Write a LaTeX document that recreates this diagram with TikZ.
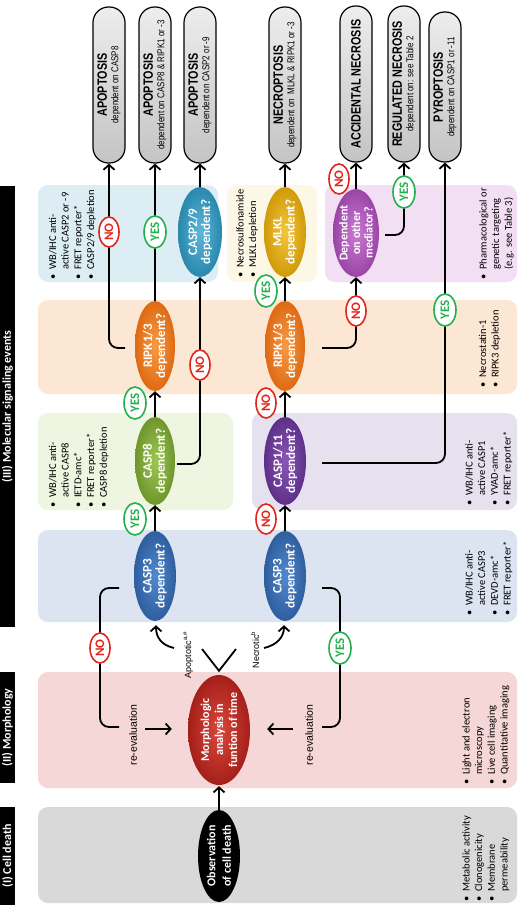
\documentclass[tikz,border=0pt]{standalone}
\usepackage{fontspec}
\setmainfont{Carlito}
\newfontfamily\narfont[FakeStretch=0.8]{Liberation Sans}
\newfontfamily\arifont{Liberation Sans}
\usetikzlibrary{shapes.geometric,arrows.meta,calc}

\definecolor{pgray}{HTML}{D9D9D9}
\definecolor{ppink}{HTML}{F5D7D7}
\definecolor{pblue}{HTML}{DCE4F1}
\definecolor{pgreen}{HTML}{EEF5E0}
\definecolor{ppurple}{HTML}{E6E1EE}
\definecolor{porange}{HTML}{FCE6D4}
\definecolor{plblue}{HTML}{DDEDF4}
\definecolor{pcream}{HTML}{FCF8E5}
\definecolor{plilac}{HTML}{F3DFF3}
\definecolor{yescol}{HTML}{22B14C}
\definecolor{nocol}{HTML}{E3241B}
\definecolor{morphI}{HTML}{D8483C}\definecolor{morphO}{HTML}{A51F1A}
\definecolor{cthreeI}{HTML}{5189CE}\definecolor{cthreeO}{HTML}{2E5E9E}
\definecolor{ceightI}{HTML}{9DC651}\definecolor{ceightO}{HTML}{6E962C}
\definecolor{ripI}{HTML}{F89A45}\definecolor{ripO}{HTML}{DE6A12}
\definecolor{coneI}{HTML}{8A57B6}\definecolor{coneO}{HTML}{5E3088}
\definecolor{ctwoI}{HTML}{5CB8DA}\definecolor{ctwoO}{HTML}{2A87AD}
\definecolor{mlklI}{HTML}{F3C63A}\definecolor{mlklO}{HTML}{D09A0A}
\definecolor{depI}{HTML}{C97AD3}\definecolor{depO}{HTML}{9A45A6}
\definecolor{pillL}{HTML}{EDEDED}\definecolor{pillD}{HTML}{C4C4C4}

\newcommand{\bitem}[1]{\makebox[10pt][l]{\textbullet}#1}
\newcommand{\citem}[1]{\hspace*{10pt}#1}
\newcommand{\ptitle}[1]{{\bfseries\fontsize{13.5}{11.5}\selectfont #1}}

\begin{document}
\begin{tikzpicture}[x=1pt,y=-1pt,
  ln/.style={line width=1.8pt, draw=black},
  arr/.style={ln, -{Straight Barb[length=5pt,width=11pt]}},
  hdr/.style={rotate=90, fill=black, text=white, inner sep=0pt, minimum height=15pt, font=\bfseries\fontsize{12}{14}\selectfont},
  pill/.style={rotate=90, draw=black, line width=1.2pt, rounded corners=15.5pt, minimum width=156pt, minimum height=32pt, inner sep=0pt, top color=pillL, bottom color=pillD, align=center, font=\narfont\fontsize{10}{11.5}\selectfont},
  dec/.style={ellipse, rotate=90, inner sep=-20pt, minimum width=90pt, minimum height=42pt, text=white, align=center, font=\bfseries\fontsize{13}{13}\selectfont},
  lab/.style={ellipse, rotate=90, fill=white, line width=1.6pt, inner sep=-20pt, minimum width=30pt, minimum height=20pt, font=\bfseries\fontsize{13}{13}\selectfont},
  yeslab/.style={lab, draw=yescol, text=yescol, minimum width=32pt, minimum height=22pt},
  nolab/.style={lab, draw=nocol, text=nocol},
  bul/.style={rotate=90, anchor=base west, align=left, inner sep=0pt, font=\fontsize{10.5}{12.7}\selectfont},
  side/.style={rotate=90, inner sep=0pt, font=\arifont\fontsize{10.5}{12}\selectfont},
]
\useasboundingbox (0,0) rectangle (522,907);
\fill[white] (0,0) rectangle (522,907);

% panels
\fill[pgray, rounded corners=10pt] (38,807) rectangle (517,903);
\fill[ppink, rounded corners=10pt] (38,672) rectangle (517,788);
\fill[pblue, rounded corners=10pt] (38,530) rectangle (517,622);
\fill[pgreen, rounded corners=10pt] (38,413) rectangle (233,510);
\fill[ppurple, rounded corners=10pt] (252,413) rectangle (517,510);
\fill[porange, rounded corners=10pt] (38,300) rectangle (517,394);
\fill[plblue, rounded corners=10pt] (38,185) rectangle (218,282);
\fill[pcream, rounded corners=10pt] (227,185) rectangle (317,282);
\fill[plilac, rounded corners=10pt] (325,185) rectangle (517,282);

% headers
\node[hdr, minimum width=98pt] (h1) at (7.5,856) {(I) Cell death};
\node[hdr, minimum width=111pt] (h2) at (7.5,727.5) {(II) Morphology};
\node[hdr, minimum width=441pt] (h3) at (7.5,406.5) {(III) Molecular signaling events};

% bullet texts (anchor = baseline of the last line)
\node[bul] (t1) at (507.6,902) {\bitem{Metabolic activity}\\\bitem{Clonogenicity}\\\bitem{Membrane}\\\citem{permeability}};
\node[bul] (t2) at (507.6,785) {\bitem{Light and electron}\\\citem{microscopy}\\\bitem{Live cell imaging}\\\bitem{Quantitative imaging}};
\node[bul] (t3) at (510.6,616) {\bitem{WB/IHC anti-}\\\citem{active CASP3}\\\bitem{DEVD-amc*}\\\bitem{FRET reporter*}};
\node[bul] (t4) at (106.8,508) {\bitem{WB/IHC anti-}\\\citem{active CASP8}\\\bitem{IETD-amc*}\\\bitem{FRET reporter*}\\\bitem{CASP8 depletion}};
\node[bul] (t5) at (510.6,506) {\bitem{WB/IHC anti-}\\\citem{active CASP1}\\\bitem{YVAD-amc*}\\\bitem{FRET reporter*}};
\node[bul] (t6) at (498.7,388) {\bitem{Necrostatin-1}\\\bitem{RIPK3 depletion}};
\node[bul] (t7) at (94.1,280) {\bitem{WB/IHC anti-}\\\citem{active CASP2 or -9}\\\bitem{FRET reporter*}\\\bitem{CASP2/9 depletion}};
\node[bul] (t8) at (256.2,278) {\bitem{Necrosulfonamide}\\\bitem{MLKL depletion}};
\node[bul] (t9) at (511.9,280) {\bitem{Pharmacological or}\\\citem{genetic targeting}\\\citem{(e.g. see Table 3)}};

% outcome pills
\node[pill] (pA1) at (109,85) {\ptitle{APOPTOSIS}\\dependent on CASP8};
\node[pill] (pA2) at (155,85) {\ptitle{APOPTOSIS}\\dependent on CASP8 \& RIPK1 or -3};
\node[pill] (pA3) at (200,85) {\ptitle{APOPTOSIS}\\dependent on CASP2 or -9};
\node[pill] (pN) at (285,85) {\ptitle{NECROPTOSIS}\\dependent on\ \ MLKL \& RIPK1 or -3};
\node[pill] (pAN) at (356,84) {\ptitle{ACCIDENTAL NECROSIS}};
\node[pill] (pRN) at (404,84) {\ptitle{REGULATED NECROSIS}\\dependent on: see Table 2};
\node[pill, minimum width=150pt] (pPY) at (445,87) {\ptitle{PYROPTOSIS}\\dependent on CASP1 or -11};

% decision ellipses
\node[dec, fill=black, minimum width=92pt, minimum height=42pt, font=\bfseries\fontsize{12}{15.5}\selectfont] (obs) at (219,856) {Observation\\of cell death};
\node[dec, inner color=morphI, outer color=morphO, minimum width=110pt, minimum height=62pt, font=\bfseries\fontsize{12}{14}\selectfont] (morph) at (219,730) {Morphologic\\analysis in\\funtion of time};
\node[dec, inner color=cthreeI, outer color=cthreeO] (c3a) at (155,576) {CASP3\\dependent?};
\node[dec, inner color=cthreeI, outer color=cthreeO] (c3b) at (285,576) {CASP3\\dependent?};
\node[dec, inner color=ceightI, outer color=ceightO, minimum width=88pt, minimum height=40pt] (c8) at (155,461) {CASP8\\dependent?};
\node[dec, inner color=coneI, outer color=coneO, minimum width=88pt] (c111) at (285,461) {CASP1/11\\dependent?};
\node[dec, inner color=ripI, outer color=ripO, minimum height=40pt] (r1) at (155,346) {RIPK1/3\\dependent?};
\node[dec, inner color=ripI, outer color=ripO, minimum height=40pt] (r2) at (285,346) {RIPK1/3\\dependent?};
\node[dec, inner color=ctwoI, outer color=ctwoO, minimum height=44pt] (c29) at (200,232) {CASP2/9\\dependent?};
\node[dec, inner color=mlklI, outer color=mlklO] (mlkl) at (285,232) {MLKL\\dependent?};
\node[dec, inner color=depI, outer color=depO, minimum width=88pt, minimum height=46pt, font=\bfseries\fontsize{12}{12.5}\selectfont] (dep) at (356,233) {Dependent\\on other\\mediator?};

% connectors
\draw[arr, shorten >=1pt] (obs) -- (morph);
\coordinate (V) at ($(morph.east)+(0,-4)$);
\coordinate (vL) at (202,649);
\coordinate (vR) at (236,649);
\draw[ln] (vL) -- (V) -- (vR);
\node[side, font=\arifont\fontsize{9}{11}\selectfont] (apo) at (188,655) {Apoptotic\textsuperscript{a,\#}};
\node[side, font=\arifont\fontsize{9}{11}\selectfont] (nec) at (255,650) {Necrotic\textsuperscript{b}};
\coordinate (aS) at (174,648);
\coordinate (nS) at (264,648);
\draw[arr] (aS) .. controls (161,645) and (156,637) .. ($(c3a.west)+(1,4)$);
\draw[arr] (nS) .. controls (277,645) and (284,637) .. ($(c3b.west)+(-1,4)$);

\draw[ln, rounded corners=9pt] ($(c3a)+(-36,12)$) -- (100,588) -- (100,727) -- (119,727);
\node[side] (reL) at (133,735) {re-evaluation};
\coordinate (rl1) at (145,729);
\draw[arr] (rl1) -- ($(morph.north)+(-16,-1)$);
\draw[ln, rounded corners=9pt] ($(c3b)+(37,12)$) -- (340,588) -- (340,727) -- (322,727);
\node[side] (reR) at (309,735) {re-evaluation};
\coordinate (rr1) at (293,729);
\draw[arr] (rr1) -- ($(morph.south)+(17,-1)$);

\draw[arr] (c3a) -- (c8);
\draw[arr] (c8) -- (r1);
\draw[arr] (r1) -- (pA2);
\draw[arr, rounded corners=9pt] ($(r1)+(-30,2)$) -| (pA1.west);
\draw[arr, rounded corners=9pt] ($(c8)+(22,3)$) -| (c29.west);
\draw[arr] (c29) -- (pA3);
\draw[arr] (c3b) -- (c111);
\draw[arr] (c111) -- (r2);
\draw[arr, rounded corners=9pt] ($(c111)+(37,2)$) -| (pPY.west);
\draw[arr] (r2) -- (mlkl);
\draw[arr, rounded corners=9pt] ($(r2)+(37,2)$) -| (dep.west);
\draw[arr] (mlkl) -- (pN);
\draw[arr] (dep) -- (pAN);
\draw[arr, rounded corners=9pt] ($(dep)+(29,2)$) -| (pRN.west);

% yes / no labels
\node[nolab] (n1) at (100,648) {NO};
\node[yeslab] (y1) at (340,648) {YES};
\node[yeslab] (y2) at (135,519) {YES};
\node[yeslab] (y3) at (135,403) {YES};
\node[yeslab] (y4) at (155,232) {YES};
\node[nolab] (n2) at (109,232) {NO};
\node[nolab] (n3) at (200,365) {NO};
\node[nolab] (n4) at (266,519) {NO};
\node[nolab] (n5) at (266,403) {NO};
\node[yeslab] (y5) at (445,310) {YES};
\node[yeslab] (y6) at (266,291) {YES};
\node[nolab] (n6) at (356,311) {NO};
\node[nolab] (n7) at (339,179) {NO};
\node[yeslab] (y7) at (404,192) {YES};
\end{tikzpicture}
\end{document}
